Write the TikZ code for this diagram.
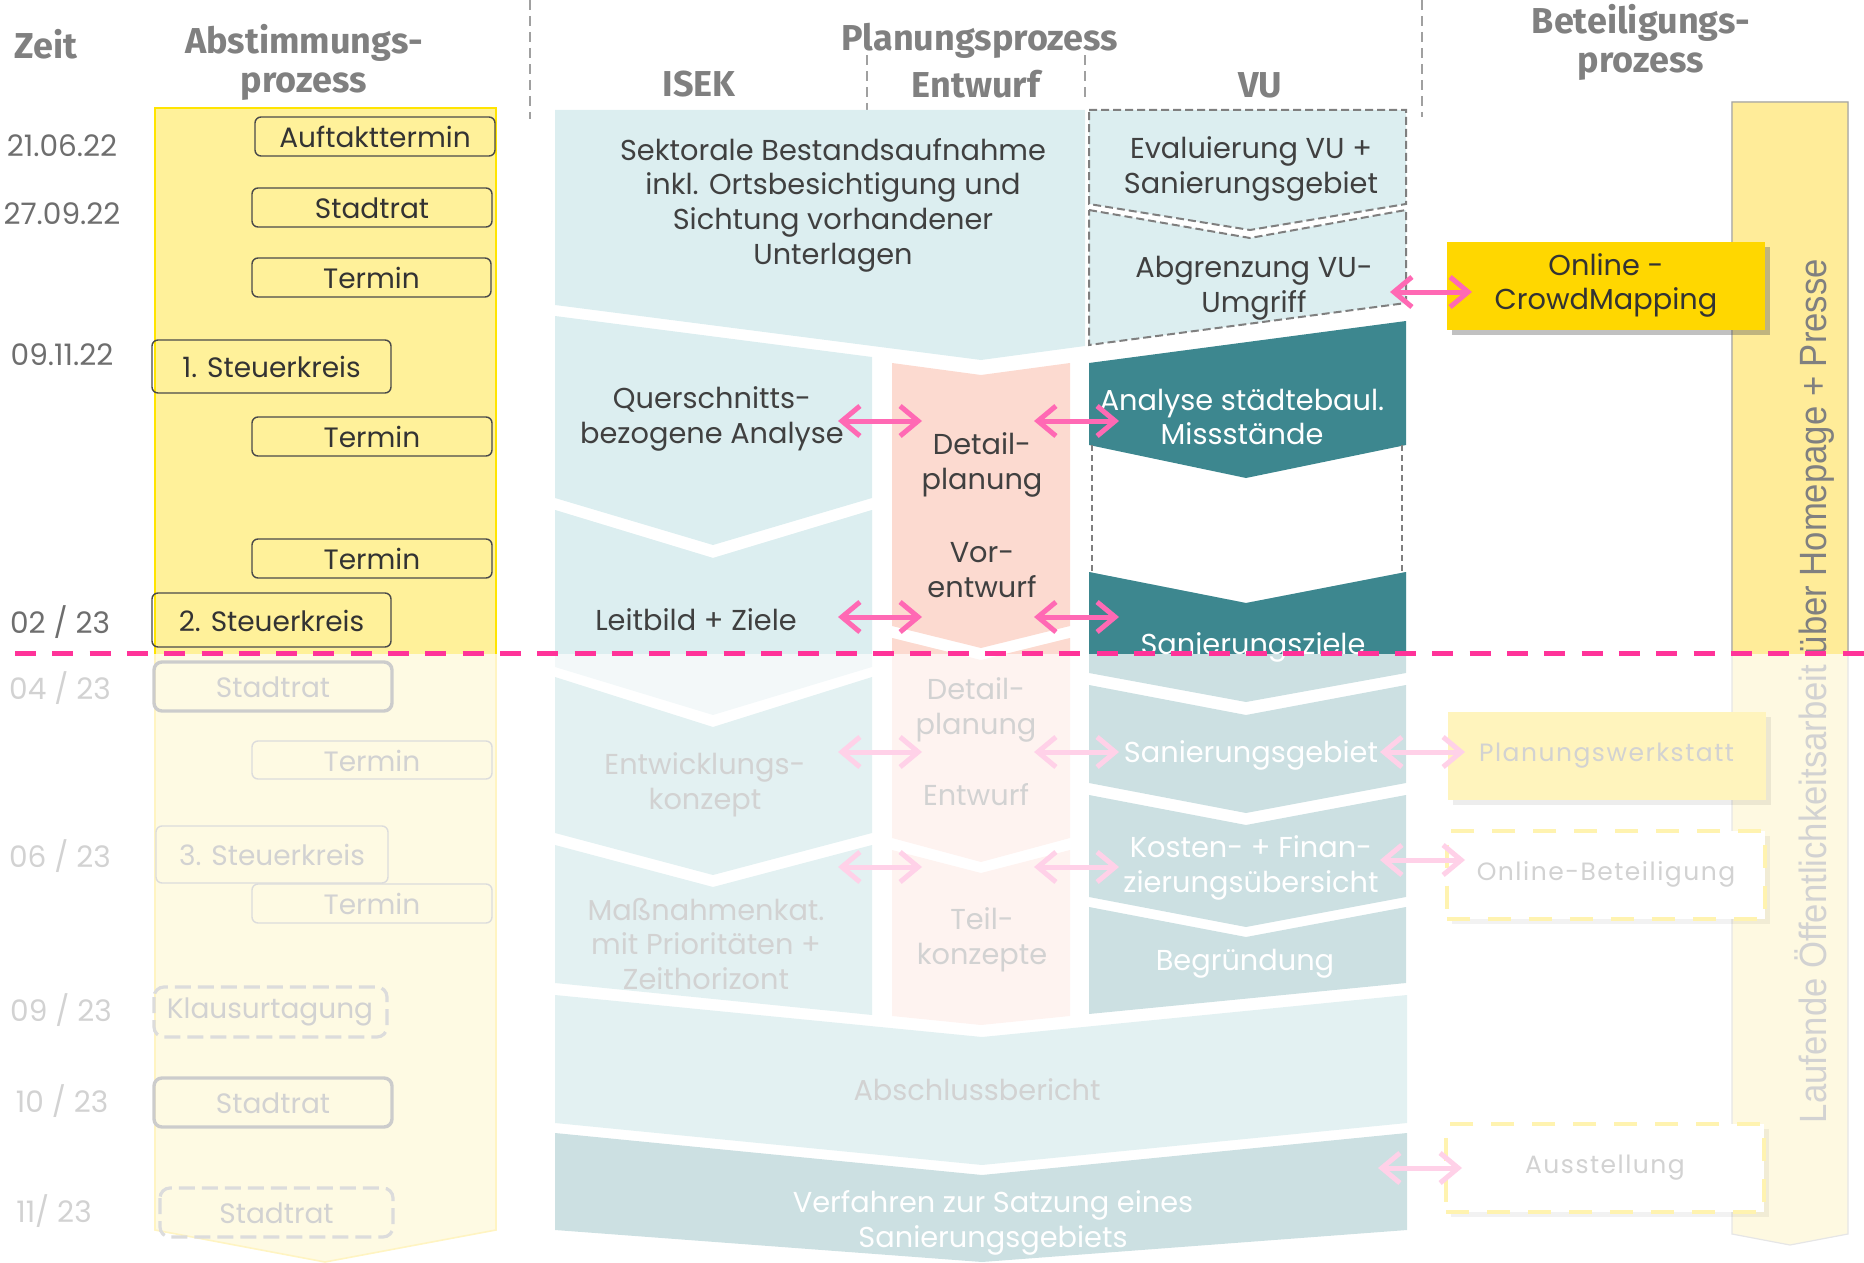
\documentclass[tikz,border=0pt]{standalone}
\usepackage{fontspec}
\usepackage{graphicx}
\setmainfont{Poppins}
\newfontfamily\hdfont{Fira Sans}
\newfontfamily\narrowfont{Liberation Sans}
\newfontfamily\widefont{Poppins}[LetterSpace=6.0]
\usetikzlibrary{arrows.meta,shadows}
\definecolor{isek}{HTML}{DCEEF0}
\definecolor{isekF}{HTML}{E3F1F2}
\definecolor{isekFF}{HTML}{F3F8F9}
\definecolor{salmon}{HTML}{FCDAD0}
\definecolor{salmonF}{HTML}{FEF3F0}
\definecolor{teal}{HTML}{3D878F}
\definecolor{tealF}{HTML}{CCE0E2}
\definecolor{colyel}{HTML}{FFF19A}
\definecolor{colyelF}{HTML}{FEFAE3}
\definecolor{colyelB}{HTML}{FFE400}
\definecolor{colyelBF}{HTML}{FFF4C2}
\definecolor{rcol}{HTML}{FFEC99}
\definecolor{rcolF}{HTML}{FEF9E1}
\definecolor{rcolB}{HTML}{A6A6A6}
\definecolor{rcolBF}{HTML}{E6E6E6}
\definecolor{gold}{HTML}{FFD700}
\definecolor{goldF}{HTML}{FFF4BD}
\definecolor{yeldashF}{HTML}{FFF3B0}
\definecolor{pinkA}{HTML}{FF69B4}
\definecolor{pinkAF}{HTML}{FFD1E8}
\definecolor{pinkL}{HTML}{FF3399}
\definecolor{hdgray}{HTML}{808080}
\definecolor{sepgray}{HTML}{A0A0A0}
\definecolor{txtdark}{HTML}{404040}
\definecolor{txtbox}{HTML}{333333}
\definecolor{boxdark}{HTML}{4A4A4A}
\definecolor{dategray}{HTML}{6E6E6E}
\definecolor{fadetxt}{HTML}{D2D2D2}
\definecolor{fadebox}{HTML}{CCCCCC}
\definecolor{fadebox2}{HTML}{DCDCDC}
\definecolor{vugray}{HTML}{7F7F7F}
\begin{document}
\begin{tikzpicture}[x=0.5pt,y=-0.5pt,
  hd/.style={font=\hdfont\bfseries\fontsize{18}{19.5}\selectfont, text=hdgray, align=center, inner sep=0},
  sep/.style={draw=sepgray, line width=1pt, dash pattern=on 5pt off 3pt},
  datetxt/.style={font=\fontsize{14.8}{16}\selectfont, text=dategray, inner sep=0},
  datef/.style={datetxt, text=fadetxt},
  boxtxt/.style={font=\fontsize{14}{16}\selectfont, text=txtbox, inner sep=0},
  boxtxtf/.style={boxtxt, text=fadetxt},
  bx/.style={draw=boxdark, line width=0.7pt, rounded corners=3pt},
  bxthick/.style={draw=fadebox, line width=1.7pt, rounded corners=4pt},
  bxthin/.style={draw=fadebox2, line width=0.7pt, rounded corners=3pt},
  bxdash/.style={draw=fadebox2, line width=1.6pt, rounded corners=5pt, dash pattern=on 8pt off 3.5pt},
  blk/.style={font=\fontsize{14.4}{17.3}\selectfont, text=txtdark, align=center, inner sep=0},
  blkw/.style={blk, text=white},
  blkf/.style={blk, text=fadetxt},
  vubox/.style={fill=isek, draw=vugray, line width=1pt, dash pattern=on 4pt off 2pt},
  biarrow/.style={{Straight Barb[length=9pt,width=15pt]}-{Straight Barb[length=9pt,width=15pt]}, line width=2.5pt, draw=pinkA},
  biarrowf/.style={biarrow, draw=pinkAF},
  partbox/.style={minimum width=159pt, minimum height=44pt, inner sep=0, align=center},
]
\useasboundingbox (0,0) rectangle (1864,1263);

% ---------------- headers
\node[hd] (zeit) at (46,44) {Zeit};
\node[hd] (abst) at (304,62) {Abstimmungs-\\prozess};
\node[hd] (plan) at (980,41) {Planungsprozess};
\node[hd] (isekh) at (699,84) {ISEK};
\node[hd] (entwh) at (976,84) {Entwurf};
\node[hd] (vuh) at (1260,85) {VU};
\node[hd] (betl) at (1641,42) {Beteiligungs-\\prozess};
\draw[sep] (530,0) -- (530,119);
\draw[sep] (867,55) -- (867,110);
\draw[sep] (1085,55) -- (1085,99);
\draw[sep] (1422,0) -- (1422,117);

% ---------------- left yellow column
\filldraw[fill=colyelF, draw=colyelBF, line width=0.8pt] (155,108) -- (496,108) -- (496,1230) -- (325,1262) -- (155,1230) -- cycle;
\begin{scope}
\clip (0,0) rectangle (1864,653);
\filldraw[fill=colyel, draw=colyelB, line width=0.8pt] (155,108) -- (496,108) -- (496,1230) -- (325,1262) -- (155,1230) -- cycle;
\end{scope}

% boxes above the line
\draw[bx] (255,117) rectangle (495,156);
\node[boxtxt] (auft) at (375,137) {Auftakttermin};
\draw[bx] (252,188) rectangle (492,227);
\node[boxtxt] (stadt1) at (372,208) {Stadtrat};
\draw[bx] (252,258) rectangle (491,297);
\node[boxtxt] (term1) at (371.5,278) {Termin};
\draw[bx] (152,340) rectangle (391,393);
\node[boxtxt] (stk1) at (271.5,367) {1. Steuerkreis};
\draw[bx] (252,417) rectangle (492,456);
\node[boxtxt] (term2) at (372,437) {Termin};
\draw[bx] (252,539) rectangle (492,578);
\node[boxtxt] (term3) at (372,559) {Termin};
\draw[bx] (152,593) rectangle (391,647);
\node[boxtxt] (stk2) at (271.5,620.5) {2. Steuerkreis};

% faded boxes
\draw[bxthick] (154,662) rectangle (392,711);
\node[boxtxtf] (stadt2) at (273,687) {Stadtrat};
\draw[bxthin] (252,741) rectangle (492,779);
\node[boxtxtf] (term4) at (372,760.5) {Termin};
\draw[bxthin] (156,826) rectangle (388,883);
\node[boxtxtf] (stk3) at (272,855) {3. Steuerkreis};
\draw[bxthin] (252,884) rectangle (492,923);
\node[boxtxtf] (term5) at (372,904) {Termin};
\draw[bxdash] (154,987) rectangle (387,1037);
\node[boxtxtf] (klaus) at (270,1012) {Klausurtagung};
\draw[bxthick] (154,1078) rectangle (392,1127);
\node[boxtxtf] (stadt3) at (273,1103) {Stadtrat};
\draw[bxdash] (160,1188) rectangle (393,1237);
\node[boxtxtf] (stadt4) at (276.5,1213) {Stadtrat};

% dates
\node[datetxt] (d1) at (62,146) {21.06.22};
\node[datetxt] (d2) at (62,214) {27.09.22};
\node[datetxt] (d3) at (62,355) {09.11.22};
\node[datetxt] (d4) at (60,622) {02 / 23};
\node[datef] (d5) at (60,688) {04 / 23};
\node[datef] (d6) at (60,856) {06 / 23};
\node[datef] (d7) at (61,1010) {09 / 23};
\node[datef] (d8) at (62,1101) {10 / 23};
\node[datef] (d9) at (54,1211) {11/ 23};

% ---------------- planning process blocks
\fill[isek] (555,110) -- (1085,110) -- (1085,346) -- (981,360) -- (555,305) -- cycle;
\fill[isek] (555,316) -- (872,357) -- (872,498) -- (713,545) -- (555,498) -- cycle;
\fill[isekFF] (555,510) -- (713,558) -- (872,510) -- (872,667) -- (713,715) -- (555,667) -- cycle;
\begin{scope}
\clip (0,0) rectangle (1864,653);
\fill[isek] (555,510) -- (713,558) -- (872,510) -- (872,667) -- (713,715) -- (555,667) -- cycle;
\end{scope}
\fill[isekF] (555,677) -- (713,727) -- (872,677) -- (872,833) -- (713,875) -- (555,833) -- cycle;
\fill[isekF] (555,845) -- (713,887) -- (872,845) -- (872,1015) -- (555,983) -- cycle;

% Entwurf (salmon)
\fill[salmon] (892,363) -- (981,375) -- (1070,363) -- (1070,626) -- (981,648) -- (892,626) -- cycle;
\fill[salmonF] (892,638) -- (981,660) -- (1070,638) -- (1070,838) -- (981,862) -- (892,838) -- cycle;
\begin{scope}
\clip (0,0) rectangle (1864,653);
\fill[salmon] (892,638) -- (981,660) -- (1070,638) -- (1070,838) -- (981,862) -- (892,838) -- cycle;
\end{scope}
\fill[salmonF] (892,850) -- (981,873) -- (1070,850) -- (1070,1016) -- (981,1025) -- (892,1016) -- cycle;

% VU
\filldraw[vubox] (1089,110) -- (1406,110) -- (1406,204) -- (1250,230) -- (1089,204) -- cycle;
\filldraw[vubox] (1089,210) -- (1250,238) -- (1406,210) -- (1406,303) -- (1089,345) -- cycle;
\fill[teal] (1089,363) -- (1406,321) -- (1406,445) -- (1246,478) -- (1089,445) -- cycle;
\draw[draw=vugray, line width=0.8pt, dash pattern=on 3pt off 2pt] (1092,445) -- (1092,572);
\draw[draw=vugray, line width=0.8pt, dash pattern=on 3pt off 2pt] (1402,445) -- (1402,572);
\fill[tealF] (1089,572) -- (1246,603) -- (1406,572) -- (1406,673) -- (1246,702) -- (1089,673) -- cycle;
\begin{scope}
\clip (0,0) rectangle (1864,653);
\fill[teal] (1089,572) -- (1246,603) -- (1406,572) -- (1406,673) -- (1246,702) -- (1089,673) -- cycle;
\end{scope}
\fill[tealF] (1089,685) -- (1246,715) -- (1406,685) -- (1406,783) -- (1246,813) -- (1089,783) -- cycle;
\fill[tealF] (1089,795) -- (1246,825) -- (1406,795) -- (1406,897) -- (1246,927) -- (1089,897) -- cycle;
\fill[tealF] (1089,907) -- (1246,937) -- (1406,907) -- (1406,983) -- (1089,1014) -- cycle;

% final blocks
\fill[isekF] (555,995) -- (982,1037) -- (1407,995) -- (1407,1123) -- (982,1165) -- (555,1123) -- cycle;
\fill[tealF] (555,1133) -- (982,1175) -- (1407,1133) -- (1407,1230) -- (982,1262) -- (555,1230) -- cycle;

% block texts
\node[blk] (sekt) at (833,205) {Sektorale Bestandsaufnahme\\inkl. Ortsbesichtigung und\\Sichtung vorhandener\\Unterlagen};
\node[blk] (quer) at (712,419) {Querschnitts-\\bezogene Analyse};
\node[blk] (leit) at (696,620) {Leitbild + Ziele};
\node[blkf] (entk) at (705,785) {Entwicklungs-\\konzept};
\node[blkf] (mass) at (706,944) {Maßnahmenkat.\\mit Prioritäten +\\Zeithorizont};
\node[blk] (detp) at (982,465) {Detail-\\planung};
\node[blk] (vore) at (982,570) {Vor-\\entwurf};
\node[blkf] (detpf) at (976,710) {Detail-\\planung};
\node[blkf] (entwf) at (976,795) {Entwurf};
\node[blkf] (teil) at (982,940) {Teil-\\konzepte};
\node[blk] (eval) at (1251,169) {Evaluierung VU +\\Sanierungsgebiet};
\node[blk] (abgr) at (1254,288) {Abgrenzung VU-\\Umgriff};
\node[blkw] (anal) at (1242,417) {Analyse städtebaul.\\Missstände};
\node[blkw] (sanz) at (1253,647) {Sanierungsziele};
\node[blkw] (sang) at (1251,755) {Sanierungsgebiet};
\node[blkw] (kost) at (1251,868) {Kosten- + Finan-\\zierungsübersicht};
\node[blkw] (begr) at (1245,964) {Begründung};
\node[blkf] (absch) at (977,1090) {Abschlussbericht};
\node[blkw] (verf) at (993,1223) {Verfahren zur Satzung eines\\Sanierungsgebiets};

% ---------------- right column (Öffentlichkeitsarbeit)
\filldraw[fill=rcolF, draw=rcolBF, line width=0.6pt] (1732,102) -- (1848,102) -- (1848,1234) -- (1790,1245) -- (1732,1234) -- cycle;
\node[rotate=90, inner sep=0, text=fadetxt] (oeff) at (1815,691) {\resizebox{432pt}{\height}{\fontsize{19}{19}\narrowfont Laufende Öffentlichkeitsarbeit über Homepage + Presse}};
\begin{scope}
\clip (0,0) rectangle (1864,653);
\filldraw[fill=rcol, draw=rcolB, line width=0.6pt] (1732,102) -- (1848,102) -- (1848,1234) -- (1790,1245) -- (1732,1234) -- cycle;
\node[rotate=90, inner sep=0, text=hdgray] (oeff2) at (1815,691) {\resizebox{432pt}{\height}{\fontsize{19}{19}\narrowfont Laufende Öffentlichkeitsarbeit über Homepage + Presse}};
\end{scope}

% participation boxes
\node[partbox, fill=gold, text=txtbox, font=\fontsize{14.4}{17}\selectfont,
      drop shadow={shadow xshift=2.5pt, shadow yshift=-2.5pt, opacity=0.35, fill=black!70}]
      (crowd) at (1606,285.5) {Online -\\CrowdMapping};
\node[partbox, fill=goldF, text=fadetxt, font=\widefont\fontsize{12.5}{15}\selectfont,
      drop shadow={shadow xshift=2.5pt, shadow yshift=-2.5pt, opacity=0.07, fill=black}]
      (werk) at (1606.5,755.5) {Planungswerkstatt};
\node[partbox, fill=white, draw=yeldashF, line width=2pt, dash pattern=on 11.5pt off 9pt, text=fadetxt, font=\widefont\fontsize{12.5}{15}\selectfont,
      drop shadow={shadow xshift=2.5pt, shadow yshift=-2.5pt, opacity=0.05, fill=black}]
      (onl) at (1606,874.5) {Online-Beteiligung};
\node[partbox, fill=white, draw=yeldashF, line width=2pt, dash pattern=on 11.5pt off 9pt, text=fadetxt, font=\widefont\fontsize{12.5}{15}\selectfont,
      drop shadow={shadow xshift=2.5pt, shadow yshift=-2.5pt, opacity=0.05, fill=black}]
      (ausst) at (1605,1168) {Ausstellung};

% ---------------- arrows
\coordinate (a0l) at (1390,292);  \coordinate (a0r) at (1472,292);
\coordinate (a1l) at (838,421);   \coordinate (a1r) at (922,421);
\coordinate (a2l) at (1034,421);  \coordinate (a2r) at (1119,421);
\coordinate (a3l) at (838,617);   \coordinate (a3r) at (922,617);
\coordinate (a4l) at (1034,617);  \coordinate (a4r) at (1119,617);
\coordinate (a5l) at (838,752);   \coordinate (a5r) at (922,752);
\coordinate (a6l) at (1034,752);  \coordinate (a6r) at (1119,752);
\coordinate (a7l) at (838,867);   \coordinate (a7r) at (922,867);
\coordinate (a8l) at (1034,867);  \coordinate (a8r) at (1119,867);
\coordinate (a9l) at (1380,752);  \coordinate (a9r) at (1465,752);
\coordinate (a10l) at (1380,860); \coordinate (a10r) at (1465,860);
\coordinate (a11l) at (1378,1168); \coordinate (a11r) at (1462,1168);
\draw[biarrow] (a0l) -- (a0r);
\draw[biarrow] (a1l) -- (a1r);
\draw[biarrow] (a2l) -- (a2r);
\draw[biarrow] (a3l) -- (a3r);
\draw[biarrow] (a4l) -- (a4r);
\draw[biarrowf] (a5l) -- (a5r);
\draw[biarrowf] (a6l) -- (a6r);
\draw[biarrowf] (a7l) -- (a7r);
\draw[biarrowf] (a8l) -- (a8r);
\draw[biarrowf] (a9l) -- (a9r);
\draw[biarrowf] (a10l) -- (a10r);
\draw[biarrowf] (a11l) -- (a11r);

% ---------------- "today" line
\coordinate (pl) at (15,653);
\coordinate (pr) at (1864,653);
\draw[pinkL, line width=2.5pt, dash pattern=on 10.5pt off 8.15pt] (pl) -- (pr);
\end{tikzpicture}
\end{document}
